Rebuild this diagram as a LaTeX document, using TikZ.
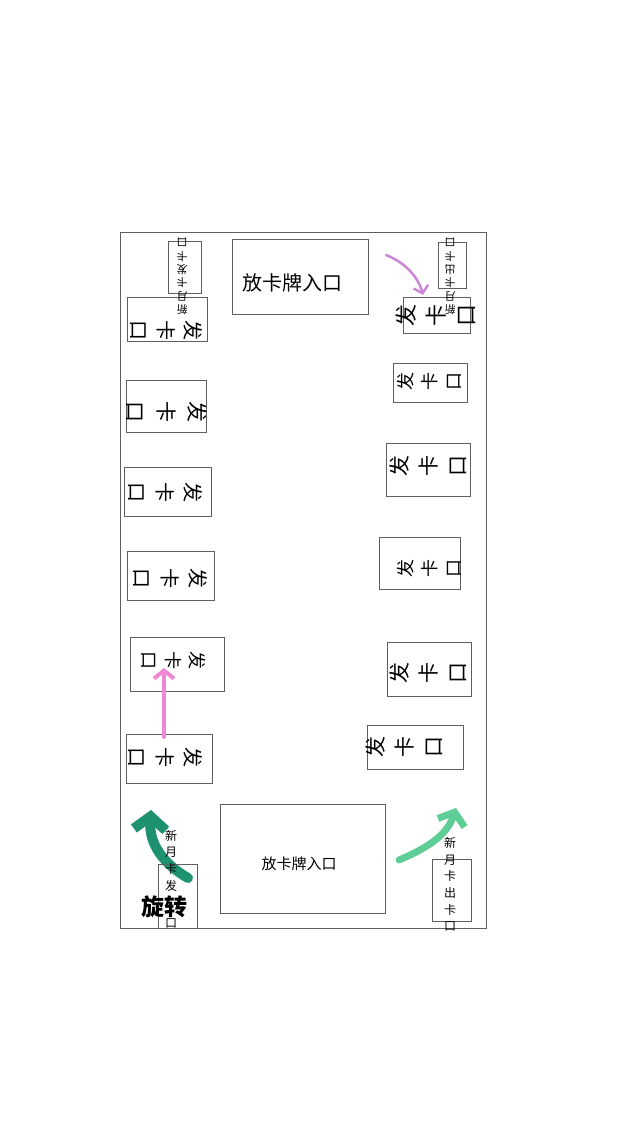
\documentclass[tikz,border=0pt]{standalone}
\usepackage{fontspec}
\newfontfamily\cjk{Noto Sans CJK SC}
\usetikzlibrary{arrows.meta,positioning,calc}
\definecolor{pinkcolor}{RGB}{240,135,210}
\definecolor{violetcolor}{RGB}{205,135,215}
\definecolor{darkgreencolor}{RGB}{30,145,112}
\definecolor{lightgreencolor}{RGB}{95,205,150}
\definecolor{boxcolor}{RGB}{95,95,95}

\begin{document}
\begin{tikzpicture}[x=1pt,y=-1pt,
    slot/.style={draw=boxcolor,line width=0.8pt,inner sep=0pt},
    word/.style={font=\cjk,align=center,inner sep=0pt},
    brush/.style={line cap=round,line join=round}]
    \useasboundingbox (0,0) rectangle (640,1138);

    % Hall outline
    \node[slot,minimum width=366pt,minimum height=696pt] (hall) at (303,580) {};

    % Turning arrows (under the labels)
    \coordinate (greenA) at (188,878);
    \coordinate (greenB) at (151,810);
    \coordinate (greenC) at (399,860);
    \coordinate (greenD) at (456,808);
    \draw[brush,darkgreencolor,line width=10pt,-{Straight Barb[length=13pt,width=32pt]}]
        (greenA) .. controls (162,863) and (149,843) .. (greenB);
    \draw[brush,lightgreencolor,line width=7pt,-{Straight Barb[length=11pt,width=28pt]}]
        (greenC) .. controls (425,849) and (447,836) .. (greenD);

    % Card entrances
    \node[slot,minimum width=136pt,minimum height=75pt] (topin) at (300,276.5) {};
    \node[word,font=\cjk\fontsize{20}{24}\selectfont] (topin-t) at (292.5,283) {放卡牌入口};
    \node[slot,minimum width=165pt,minimum height=109pt] (botin) at (302.5,858.5) {};
    \node[word,font=\cjk\fontsize{15}{18}\selectfont] (botin-t) at (299,864) {放卡牌入口};

    % Left row of card slots
    \foreach \n/\cx/\cy/\w/\h/\tx/\ty/\sz/\gap in {
        L1/167/319/80/44/166/330/20/27,
        L2/166/406/80/52/167/412/21/31,
        L3/167.5/491.5/87/49/165/492/20/28,
        L4/170.5/575.5/87/49/170/578/20/28,
        L5/177/664/94/54/174/660/18/24,
        L6/169/758.5/86/49/165/757/20/28}{
        \node[slot,minimum width=\w pt,minimum height=\h pt] (\n) at (\cx,\cy) {};
        \node[word,rotate=-90,font=\cjk\fontsize{\sz}{\gap}\selectfont] (\n-t) at (\tx,\ty) {发\\卡\\口};
    }

    % Right row of card slots
    \foreach \n/\cx/\cy/\w/\h/\tx/\ty/\sz/\gap in {
        R1/436.5/315/67/36/436/315/22/30,
        R2/430/382.5/74/39/429/381/18/24,
        R3/428/469.5/84/53/428.5/466/21/29,
        R4/419.5/563/81/52/429/568/18/24,
        R5/429/669/84/54/428.5/673/21/29,
        R6/415/747/96/44/404.5/747/21/29}{
        \node[slot,minimum width=\w pt,minimum height=\h pt] (\n) at (\cx,\cy) {};
        \node[word,rotate=90,font=\cjk\fontsize{\sz}{\gap}\selectfont] (\n-t) at (\tx,\ty) {发\\卡\\口};
    }

    % Monthly card units
    \node[slot,minimum width=33pt,minimum height=52pt] (TL) at (184.5,267) {};
    \node[word,rotate=180,font=\cjk\fontsize{11}{13.4}\selectfont] (TL-t) at (182,276.5) {新\\月\\卡\\发\\卡\\口};
    \node[slot,minimum width=28pt,minimum height=46pt] (TR) at (452,265) {};
    \node[word,rotate=180,font=\cjk\fontsize{11}{13.4}\selectfont] (TR-t) at (450,276.5) {新\\月\\卡\\出\\卡\\口};
    \node[slot,minimum width=39pt,minimum height=64pt] (BL) at (177.5,896) {};
    \node[word,font=\cjk\fontsize{12}{16.8}\selectfont] (BL-t) at (171,879) {新\\月\\卡\\发\\[20pt]口};
    \node[slot,minimum width=39pt,minimum height=62pt] (BR) at (451.5,890) {};
    \node[word,font=\cjk\fontsize{12}{16.6}\selectfont] (BR-t) at (450,884.5) {新\\月\\卡\\出\\卡\\口};
    \node[word,font=\cjk\bfseries\fontsize{23}{26}\selectfont] (turn) at (164,907) {旋转};

    % Queue arrows
    \coordinate (pinkA) at (386,255);
    \coordinate (pinkB) at (423,295);
    \coordinate (pinkC) at (164,737);
    \coordinate (pinkD) at (164,668);
    \draw[brush,violetcolor,line width=2.5pt,-{Straight Barb[length=7pt,width=15pt]}]
        (pinkA) .. controls (404,262) and (418,276) .. (pinkB);
    \draw[brush,pinkcolor,line width=4pt,-{Straight Barb[length=8pt,width=20pt]}]
        (pinkC) -- (pinkD);
\end{tikzpicture}
\end{document}
